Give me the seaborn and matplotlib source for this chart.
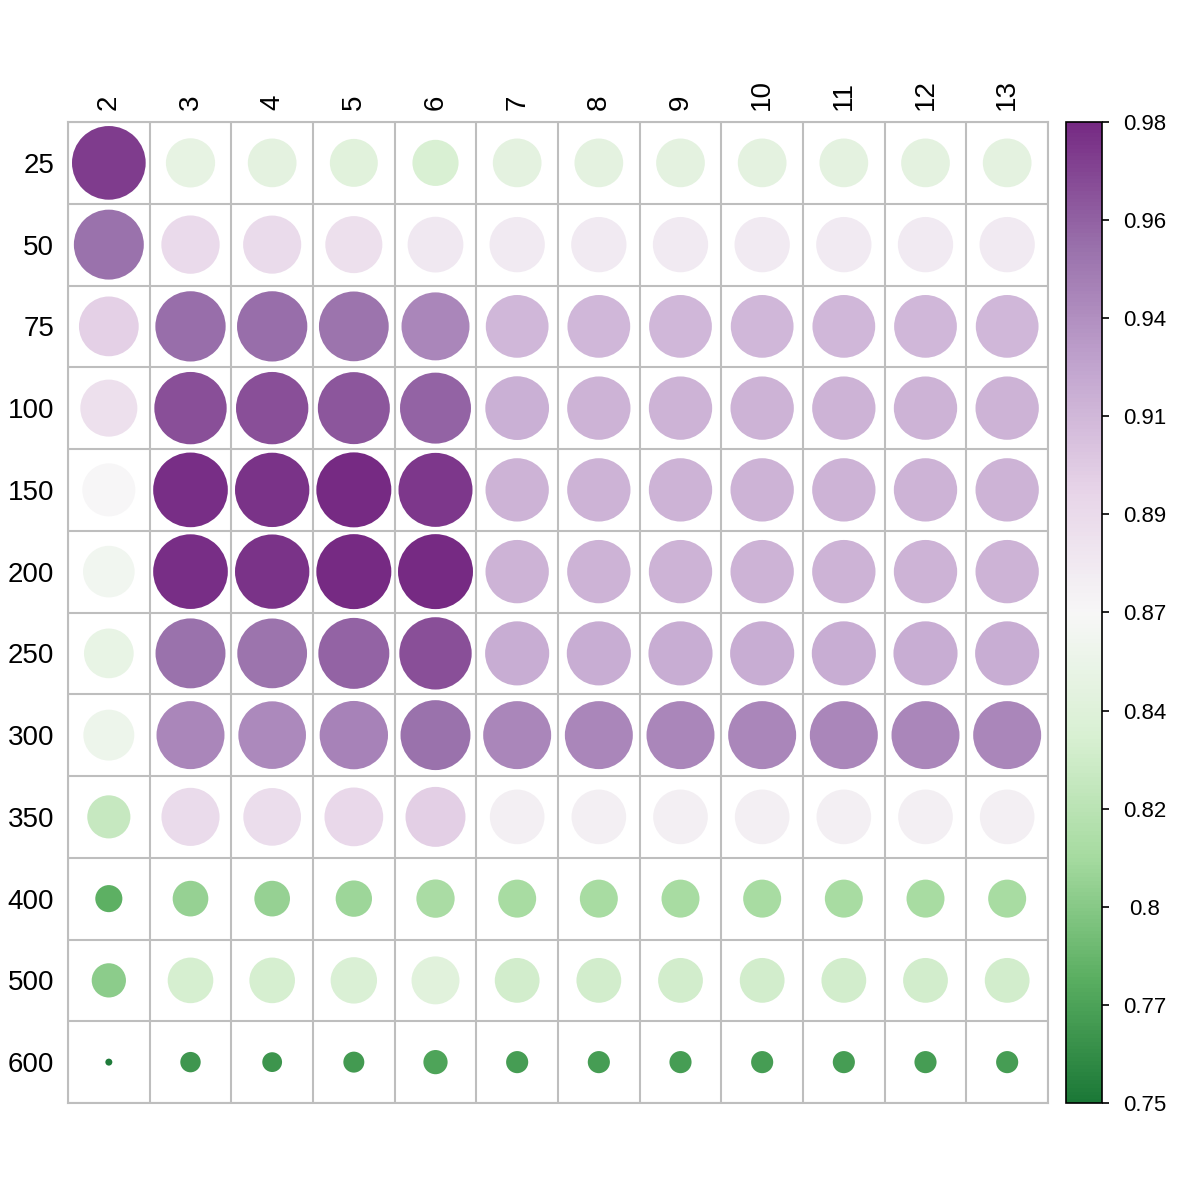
import numpy as np
import pandas as pd
import matplotlib
matplotlib.use("Agg")
import matplotlib.pyplot as plt
from matplotlib.colors import LinearSegmentedColormap, Normalize
import seaborn as sns

sns.set_style("white")
plt.rcParams['font.family'] = ['Liberation Sans', 'DejaVu Sans']
plt.rcParams['text.color'] = 'black'
plt.rcParams['xtick.color'] = 'black'
plt.rcParams['ytick.color'] = 'black'

row_labels = ['25', '50', '75', '100', '150', '200', '250', '300', '350', '400', '500', '600']
col_labels = ['2', '3', '4', '5', '6', '7', '8', '9', '10', '11', '12', '13']

# one list per row, columns 2..13
values = [
    [0.972, 0.849, 0.847, 0.844, 0.837, 0.847, 0.847, 0.847, 0.847, 0.847, 0.847, 0.847],
    [0.950, 0.889, 0.888, 0.883, 0.877, 0.875, 0.875, 0.875, 0.875, 0.875, 0.875, 0.875],
    [0.896, 0.952, 0.952, 0.949, 0.939, 0.911, 0.911, 0.911, 0.911, 0.911, 0.911, 0.911],
    [0.883, 0.964, 0.964, 0.962, 0.956, 0.916, 0.914, 0.914, 0.914, 0.914, 0.914, 0.914],
    [0.865, 0.978, 0.976, 0.980, 0.974, 0.914, 0.914, 0.914, 0.914, 0.914, 0.914, 0.914],
    [0.859, 0.978, 0.976, 0.980, 0.980, 0.914, 0.914, 0.914, 0.914, 0.914, 0.914, 0.914],
    [0.851, 0.950, 0.949, 0.956, 0.964, 0.918, 0.918, 0.918, 0.918, 0.918, 0.918, 0.918],
    [0.856, 0.939, 0.937, 0.941, 0.950, 0.939, 0.939, 0.939, 0.939, 0.939, 0.939, 0.939],
    [0.826, 0.888, 0.886, 0.891, 0.897, 0.872, 0.872, 0.872, 0.872, 0.872, 0.872, 0.872],
    [0.780, 0.802, 0.802, 0.804, 0.810, 0.809, 0.809, 0.809, 0.809, 0.809, 0.809, 0.809],
    [0.798, 0.835, 0.835, 0.838, 0.844, 0.832, 0.832, 0.832, 0.832, 0.832, 0.832, 0.832],
    [0.752, 0.767, 0.766, 0.768, 0.774, 0.770, 0.770, 0.770, 0.770, 0.770, 0.770, 0.770],
]

lim = (0.75, 0.98)
cbar_labels = ['0.75', '0.77', '0.8', '0.82', '0.84', '0.87', '0.89', '0.91', '0.94', '0.96', '0.98']

cmap = LinearSegmentedColormap.from_list(
    'prgn', ['#1B7837', '#5AAE61', '#A6DBA0', '#D9F0D3', '#F7F7F7',
             '#E7D4E8', '#C2A5CF', '#9970AB', '#762A83'])

rows = []
for i, r in enumerate(row_labels):
    for j, c in enumerate(col_labels):
        rows.append({'row': i, 'col': j, 'value': values[i][j]})
df = pd.DataFrame(rows)

W = 1194
fig = plt.figure(figsize=(W / 100, W / 100), dpi=100)
ax = fig.add_axes([68 / W, 1 - 1103 / W, 980 / W, 981 / W])

grid_col = '#BEBEBE'
# full circle = 75 px across
smax = (75 * 72 / 100) ** 2
sns.scatterplot(data=df, x='col', y='row', hue='value', size='value',
                hue_norm=lim, size_norm=lim, sizes=(0, smax),
                palette=cmap, legend=False, linewidth=0, ax=ax, zorder=3)

ax.set_xlim(-0.5, len(col_labels) - 0.5)
ax.set_ylim(len(row_labels) - 0.5, -0.5)
ax.set_xticks(range(len(col_labels)))
ax.set_xticklabels(col_labels, rotation=90, fontsize=20)
ax.set_yticks(range(len(row_labels)))
ax.set_yticklabels(row_labels, fontsize=20)
ax.xaxis.tick_top()
ax.tick_params(axis='x', length=0, pad=8.5, labelcolor='black')
ax.tick_params(axis='y', length=0, pad=10, labelcolor='black')
ax.set_xlabel('')
ax.set_ylabel('')

ax.set_xticks(np.arange(-0.5, len(col_labels)), minor=True)
ax.set_yticks(np.arange(-0.5, len(row_labels)), minor=True)
ax.tick_params(which='minor', length=0)
ax.grid(which='minor', color=grid_col, linewidth=1.5)
ax.grid(which='major', visible=False)
ax.set_axisbelow(True)
for sp in ax.spines.values():
    sp.set_color(grid_col)
    sp.set_linewidth(1.5)

# colour bar
cax = fig.add_axes([1066 / W, 1 - 1103 / W, 36 / W, 981 / W])
sm = plt.cm.ScalarMappable(norm=Normalize(*lim), cmap=cmap)
cb = fig.colorbar(sm, cax=cax)
cb.set_ticks(np.linspace(lim[0], lim[1], len(cbar_labels)))
cb.set_ticklabels(cbar_labels)
cb.outline.set_linewidth(1.2)
cb.outline.set_edgecolor('black')
cax.tick_params(length=5, width=1.2, pad=26, labelsize=16,
                color='black', labelcolor='black')
for t in cax.get_yticklabels():
    t.set_ha('center')

fig.savefig('out.png', dpi=100, facecolor='white')
